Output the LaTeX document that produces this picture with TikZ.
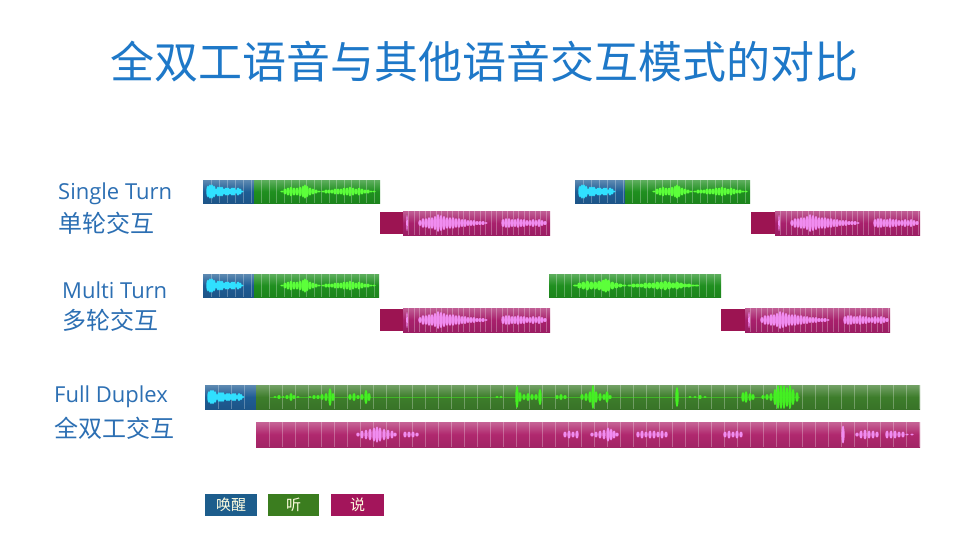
\documentclass[tikz,border=0pt]{standalone}
\usepackage{fontspec}
\setmainfont{Open Sans}
\newfontfamily\cjk{Noto Sans CJK SC}
\definecolor{titleblue}{HTML}{1E78C8}
\definecolor{labelblue}{HTML}{2C6FB3}
\definecolor{wakeblue}{HTML}{1F5C94}
\definecolor{cyanwave}{HTML}{30E0FF}
\definecolor{listengreen}{HTML}{1F8F1F}
\definecolor{greenwave}{HTML}{5CFF3A}
\definecolor{fdgreen}{HTML}{3D7D2B}
\definecolor{fdgreenwave}{HTML}{44F022}
\definecolor{speakpink}{HTML}{A8206C}
\definecolor{pinkwave}{HTML}{F08CF0}
\definecolor{darkpink}{HTML}{9C1452}
\definecolor{fdpink}{HTML}{B0286E}
\definecolor{legblue}{HTML}{1D5D8C}
\definecolor{leggreen}{HTML}{3B7D1F}
\definecolor{legpink}{HTML}{A3155B}
\tikzset{
  gridline/.style={draw=white, opacity=0.28, line width=0.6pt},
  latinlabel/.style={anchor=west, inner sep=0pt, text=labelblue, font=\fontsize{22}{24}\selectfont},
  cjklabel/.style={anchor=west, inner sep=0pt, text=labelblue, font=\cjk\fontsize{24}{26}\selectfont},
  legendbox/.style={minimum height=22pt, inner sep=0pt, text=white!88!yellow, font=\cjk\fontsize{15}{17}\selectfont},
}
% #1 x1, #2 x2, #3 y1, #4 y2, #5 colour, #6 grid spacing
\newcommand{\gridbar}[6]{%
  \shade[top color=#5!72!white, bottom color=#5!92!black, middle color=#5] (#1,#3) rectangle (#2,#4);
  \begin{scope}
    \clip (#1,#3) rectangle (#2,#4);
    \foreach \gi in {1,...,125} \draw[gridline] ({#1+\gi*#6},#3) -- ({#1+\gi*#6},#4);
  \end{scope}
}
% #1 colour, #2 centre y, #3 x shift, #4 list macro x/h
\newcommand{\wavefill}[4]{%
  \foreach \wx/\wh in #4 {\fill[#1] ({#3+\wx},#2) ellipse (1.7 and \wh);}
}
\newcommand{\wakelist}{5/6,7/7,9/7,11/6,13/3,15/5,17/5,19/5,21/3,23/4,25/4,27/3,29/4,31/4,33/2,35/4,37/3,39/1}
\newcommand{\listenlist}{79/1,82/3,85/4,88/5,91/4,94/4,97/5,100/6,102/7,104/6,107/4,110/3,113/2,116/1,120/1,123/2,126/2,129/2,132/3,135/3,138/3,141/4,144/4,147/5,150/4,153/3,156/4,159/3,162/2,165/2,168/1,171/1}
\newcommand{\speaklist}{17/3,20/5,23/5,26/6,29/6,32/7,35/9,38/8,41/7,44/6,47/6,50/6,53/5,56/5,59/4,62/4,65/3,68/3,71/3,74/2,77/2,80/2,83/1,100/4,103/5,106/5,109/4,112/4,115/5,118/4,121/4,124/3,127/3,130/4,133/3,136/4,139/3,142/2}
\newcommand{\fdgreenlist}{275/1,279/2,283/1,287/2,291/4,294/2,298/1,310/1,314/2,318/2,322/3,326/4,330/9,333/4,350/3,354/4,358/2,362/3,366/7,369/4,497/1,501/1,517/11,520/5,524/3,528/4,532/3,536/3,540/8,557/2,561/3,565/2,582/3,586/4,590/6,593/12,596/6,600/4,604/3,607/6,610/2,677/10,690/1,695/1,700/2,705/1,743/5,746/6,750/4,753/3,763/2,767/3,771/4,775/8,778/12,781/12,784/12,787/10,790/12,793/8,797/5}
\newcommand{\fdpinklist}{358/2,362/4,366/5,370/6,374/7,377/8,380/7,384/6,388/5,392/4,395/2,405/3,409/3,413/3,417/2,565/3,569/4,573/3,577/4,592/2,596/3,600/4,604/5,608/7,611/6,614/4,617/2,638/3,642/4,646/3,650/4,654/4,658/3,662/4,666/3,725/3,729/4,733/3,737/4,741/3,857/2,861/4,865/5,869/4,873/4,877/3,887/4,891/4,895/4,899/3,903/3,907/1,912/1}
% wake+listen bar: #1 x start, #2 x wake end, #3 x end, #4 y top
\newcommand{\wakelisten}[4]{%
  \gridbar{#1}{#2}{#4}{#4+23}{wakeblue}{8}
  \gridbar{#2}{#3}{#4}{#4+23}{listengreen}{7.5}
  \wavefill{cyanwave}{#4+11.5}{#1}{\wakelist}
  \wavefill{greenwave}{#4+11.5}{#1}{\listenlist}
}
% speak bar: #1 dark start, #2 bar start, #3 end, #4 y top
\newcommand{\speakbar}[4]{%
  \fill[darkpink] (#1,#4+1) rectangle (#2,#4+23);
  \gridbar{#2}{#3}{#4}{#4+24}{speakpink}{5.5}
  \fill[pinkwave] ({#2+4},#4+12) ellipse (0.8 and 8);
  \wavefill{pinkwave}{#4+12}{#2}{\speaklist}
}
\begin{document}
\begin{tikzpicture}[x=1pt,y=-1pt]
\useasboundingbox (0,0) rectangle (979,550);
\fill[white] (0,0) rectangle (979,550);

\node[text=titleblue, font=\cjk\fontsize{44}{48}\selectfont, inner sep=0pt] (title) at (484,62) {全双工语音与其他语音交互模式的对比};

% labels
\node[latinlabel] (st) at (58,194) {Single Turn};
\node[cjklabel] (stc) at (58,223) {单轮交互};
\node[latinlabel] (mt) at (62,290) {Multi Turn};
\node[cjklabel] (mtc) at (62,320) {多轮交互};
\node[latinlabel] (fd) at (54,397) {Full Duplex};
\node[cjklabel] (fdc) at (54,428) {全双工交互};

% single turn
\wakelisten{203}{254}{380}{180}
\speakbar{380}{403}{550}{211}
\wakelisten{575}{625}{750}{180}
\speakbar{751}{775}{920}{211}

% multi turn
\wakelisten{203}{254}{379}{274}
\speakbar{380}{403}{550}{308}
\gridbar{549}{721}{274}{297}{listengreen}{7.5}
\begin{scope}[xshift=549pt, xscale=1.32]
  \wavefill{greenwave}{285.5}{-59}{\listenlist}
\end{scope}
\speakbar{721}{745}{890}{308}

% full duplex
\gridbar{205}{256}{385}{409}{wakeblue}{13}
\gridbar{256}{920}{385}{409}{fdgreen}{13}
\wavefill{cyanwave}{397}{204}{\wakelist}
\draw[fdgreenwave, opacity=0.5, line width=0.5pt] (270,397) -- (800,397);
\wavefill{fdgreenwave}{397}{0}{\fdgreenlist}
\gridbar{256}{920}{422}{447}{fdpink}{13}
\wavefill{pinkwave}{434.5}{0}{\fdpinklist}
\fill[pinkwave] (843,434.5) ellipse (1.6 and 9);

% legend
\node[legendbox, fill=legblue, minimum width=52pt] (lwake) at (231,505) {唤醒};
\node[legendbox, fill=leggreen, minimum width=51pt] (llisten) at (293.5,505) {听};
\node[legendbox, fill=legpink, minimum width=53pt] (lspeak) at (357.5,505) {说};
\end{tikzpicture}
\end{document}
